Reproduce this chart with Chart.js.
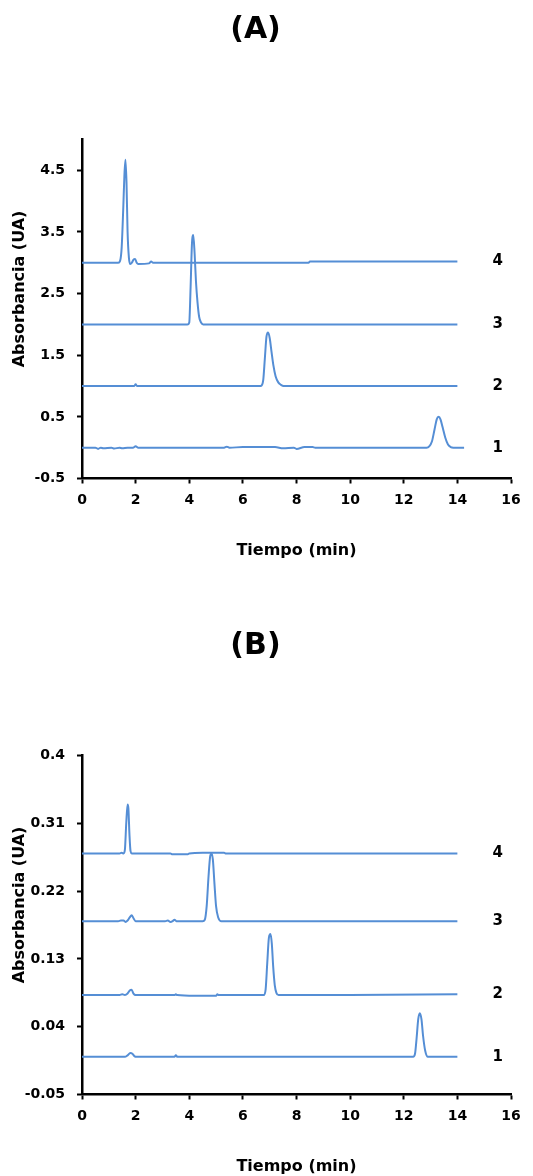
<!DOCTYPE html>
<html>
<head>
<meta charset="utf-8">
<script src="https://cdn.jsdelivr.net/npm/chart.js@4/dist/chart.umd.min.js"></script>
<style>
    body { margin: 0; background: #fff; }
    .panel { position: absolute; left: 0; width: 533px; height: 560px; }
    #panelA { top: 0; }
    #panelB { top: 616px; }
</style>
</head>
<body>
<div class="panel" id="panelA"><canvas id="chartA" width="533" height="560"></canvas></div>
<div class="panel" id="panelB"><canvas id="chartB" width="533" height="560"></canvas></div>
<script>
// axis ticks
const xTicks = [0, 2, 4, 6, 8, 10, 12, 14, 16];
const yTicksA = [-0.5, 0.5, 1.5, 2.5, 3.5, 4.5];
const yTicksB = [-0.05, 0.04, 0.13, 0.22, 0.31, 0.4];
const traceNames = ['1', '2', '3', '4'];

// (A) chromatograms, time in min / absorbance in UA
const timeA1 = [0, 0.5, 0.6, 0.7, 0.8, 1.1, 1.2, 1.4, 1.5, 1.7, 1.9, 2.0, 2.1, 2.3, 5.3, 5.4, 5.5, 6.0, 6.5, 7.2, 7.5, 7.9, 8.0, 8.3, 8.6, 8.7,
    12.85, 12.95, 13.05, 13.15, 13.23, 13.3, 13.37, 13.45, 13.55, 13.65, 13.75, 13.85, 14.25];
const absA1 = [0, 0, -0.02, 0, -0.01, 0, -0.015, 0, -0.01, 0, 0, 0.025, 0, 0, 0, 0.015, 0, 0.01, 0.01, 0.01, -0.01, 0, -0.02, 0.01, 0.01, 0,
    0, 0.02, 0.1, 0.3, 0.46, 0.5, 0.46, 0.33, 0.16, 0.05, 0.01, 0, 0];

const timeA2 = [0, 1.95, 2.0, 2.05, 6.62, 6.7, 6.76, 6.82, 6.88, 6.94, 7.0, 7.07, 7.14, 7.22, 7.32, 7.42, 7.52, 14];
const absA2 = [1, 1, 1.03, 1, 1, 1.01, 1.1, 1.45, 1.8, 1.87, 1.78, 1.55, 1.33, 1.16, 1.06, 1.02, 1.0, 1.0];

const timeA3 = [0, 3.93, 4.0, 4.05, 4.1, 4.15, 4.2, 4.25, 4.31, 4.37, 4.44, 4.52, 14];
const absA3 = [2, 2, 2.03, 2.6, 3.3, 3.45, 3.15, 2.7, 2.35, 2.12, 2.03, 2.0, 2.0];

const timeA4 = [0, 1.35, 1.42, 1.48, 1.54, 1.58, 1.62, 1.66, 1.7, 1.75, 1.8, 1.86, 1.92, 1.98, 2.04, 2.1, 2.5, 2.58, 2.65, 2.75, 6.0, 8.45, 8.5, 14];
const absA4 = [3, 3, 3.03, 3.25, 3.9, 4.4, 4.67, 4.3, 3.5, 3.08, 2.98, 3.0, 3.05, 3.06, 3.0, 2.98, 2.99, 3.02, 3.0, 3.0, 3.0, 3.0, 3.02, 3.02];

// (B) chromatograms
const timeB1 = [0, 1.6, 1.7, 1.8, 1.88, 1.95, 2.05, 3.45, 3.5, 3.56, 12.35, 12.42, 12.48, 12.54, 12.6, 12.66, 12.72, 12.8, 12.9, 14];
const absB1 = [0, 0, 0.002, 0.005, 0.004, 0.001, 0, 0, 0.002, 0, 0, 0.004, 0.025, 0.05, 0.058, 0.05, 0.028, 0.008, 0, 0];

const timeB2 = [0, 1.4, 1.5, 1.6, 1.7, 1.78, 1.85, 1.92, 2.0, 3.45, 3.5, 3.55, 4.2, 5.0, 5.05, 5.1, 6.78, 6.85, 6.91, 6.97, 7.03, 7.08, 7.13, 7.19, 7.25, 7.33, 10.0, 14];
const absB2 = [0.082, 0.082, 0.083, 0.082, 0.084, 0.088, 0.089, 0.084, 0.082, 0.082, 0.083, 0.082, 0.081, 0.081, 0.083, 0.082,
    0.082, 0.09, 0.125, 0.158, 0.163, 0.15, 0.12, 0.095, 0.085, 0.082, 0.082, 0.083];

const timeB3 = [0, 1.35, 1.45, 1.55, 1.62, 1.7, 1.78, 1.85, 1.92, 2.0, 2.1, 3.1, 3.2, 3.3, 3.38, 3.45, 3.52, 3.6,
    4.5, 4.58, 4.65, 4.72, 4.78, 4.83, 4.88, 4.94, 5.0, 5.08, 5.2, 14];
const absB3 = [0.18, 0.18, 0.181, 0.181, 0.179, 0.181, 0.185, 0.188, 0.184, 0.18, 0.18, 0.18, 0.181, 0.179, 0.18, 0.182, 0.18, 0.18,
    0.18, 0.182, 0.2, 0.24, 0.266, 0.27, 0.262, 0.23, 0.2, 0.185, 0.18, 0.18];

const timeB4 = [0, 1.4, 1.48, 1.55, 1.6, 1.65, 1.7, 1.73, 1.77, 1.81, 1.86, 1.95, 3.3, 3.35, 3.95, 4.0, 4.5, 5.3, 5.35, 14];
const absB4 = [0.27, 0.27, 0.271, 0.27, 0.275, 0.31, 0.335, 0.33, 0.295, 0.273, 0.27, 0.27, 0.27, 0.269, 0.269, 0.27, 0.271, 0.271, 0.27, 0.27];

const FONT = 'DejaVu Sans';
const LINE = '#558ed5';

const toPoints = (t, v) => t.map((x, i) => ({ x: x, y: v[i] }));

// writes the trace number after each line and the rotated y title
const traceLabels = {
    id: 'traceLabels',
    afterDraw(chart) {
        const { ctx, chartArea, scales: { x, y } } = chart;
        ctx.save();
        ctx.fillStyle = '#000';
        ctx.font = 'bold 15px "' + FONT + '"';
        ctx.textAlign = 'center';
        ctx.textBaseline = 'middle';
        chart.data.datasets.forEach(ds => {
            const last = ds.data[ds.data.length - 1];
            ctx.fillText(ds.label, x.getPixelForValue(15.5), y.getPixelForValue(last.y));
        });
        ctx.font = 'bold 16px "' + FONT + '"';
        ctx.translate(20, (chartArea.top + chartArea.bottom) / 2 - 20);
        ctx.rotate(-Math.PI / 2);
        ctx.fillText('Absorbancia (UA)', 0, 0);
        ctx.restore();
    }
};

function drawChromatogram(canvasId, title, traces, yMin, yMax, yTicks) {
    const ctx = document.getElementById(canvasId).getContext('2d');
    return new Chart(ctx, {
        type: 'line',
        data: {
            datasets: traces.map((tr, i) => ({
                label: traceNames[i],
                data: toPoints(tr[0], tr[1]),
                borderColor: LINE,
                borderWidth: 2,
                pointRadius: 0,
                fill: false,
                cubicInterpolationMode: 'monotone'
            }))
        },
        options: {
            responsive: false,
            animation: false,
            layout: { padding: { left: 0, right: 22, top: 0, bottom: 0 } },
            plugins: {
                legend: { display: false },
                tooltip: { enabled: false },
                title: {
                    display: true,
                    text: title,
                    color: '#000',
                    font: { family: FONT, size: 30, weight: 'bold' },
                    padding: { top: 12, bottom: 91.5 }
                }
            },
            scales: {
                x: {
                    type: 'linear',
                    min: 0,
                    max: 16,
                    afterBuildTicks: axis => { axis.ticks = xTicks.map(v => ({ value: v })); },
                    afterFit: axis => { axis.height = 81.5; },
                    ticks: {
                        color: '#000',
                        padding: 8,
                        maxRotation: 0,
                        font: { family: FONT, size: 14, weight: 'bold' },
                        callback: v => String(v)
                    },
                    grid: { drawOnChartArea: false, drawTicks: true, tickLength: 5, tickWidth: 2, tickColor: '#000', color: '#000' },
                    border: { display: true, color: '#000', width: 2.5 },
                    title: {
                        display: true,
                        text: 'Tiempo (min)',
                        color: '#000',
                        font: { family: FONT, size: 16, weight: 'bold' },
                        padding: { top: 0, bottom: 0 }
                    }
                },
                y: {
                    min: yMin,
                    max: yMax,
                    afterBuildTicks: axis => { axis.ticks = yTicks.map(v => ({ value: v })); },
                    afterFit: axis => { axis.width = 82; },
                    ticks: {
                        color: '#000',
                        padding: 12,
                        font: { family: FONT, size: 14, weight: 'bold' },
                        callback: v => String(v)
                    },
                    grid: { drawOnChartArea: false, drawTicks: true, tickLength: 5, tickWidth: 2, tickColor: '#000', color: '#000' },
                    border: { display: true, color: '#000', width: 2.5 }
                }
            }
        },
        plugins: [traceLabels]
    });
}

drawChromatogram('chartA', '(A)', [
    [timeA1, absA1], [timeA2, absA2], [timeA3, absA3], [timeA4, absA4]
], -0.5, 5, yTicksA);

drawChromatogram('chartB', '(B)', [
    [timeB1, absB1], [timeB2, absB2], [timeB3, absB3], [timeB4, absB4]
], -0.05, 0.4, yTicksB);
</script>
</body>
</html>
